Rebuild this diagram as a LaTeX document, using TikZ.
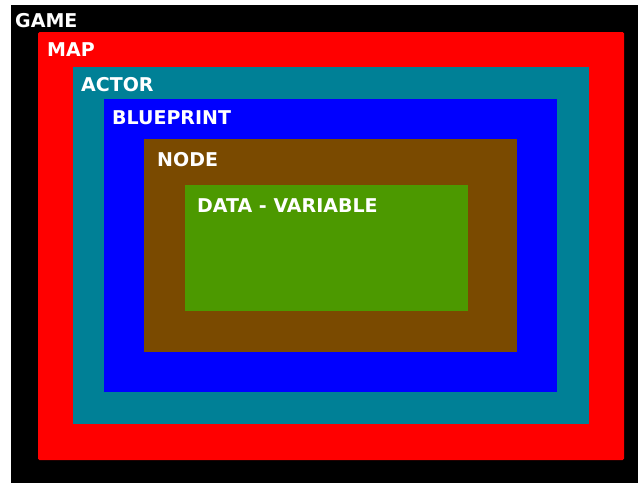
\documentclass[tikz,border=0pt]{standalone}
\usepackage{fontspec}
\setmainfont{DejaVu Sans}
\definecolor{cteal}{RGB}{0,128,150}
\definecolor{cbrown}{RGB}{122,74,0}
\definecolor{cgreen}{RGB}{76,153,0}
\begin{document}
\begin{tikzpicture}[x=1pt,y=-1pt,
  lbl/.style={anchor=base west,inner sep=0pt,text=white,font=\fontsize{19}{22}\selectfont\bfseries},
  box/.style={rounded corners=1.5pt}]
\useasboundingbox (0,0) rectangle (638,483);
\fill[white] (0,0) rectangle (638,483);
\fill[black] (11,5) rectangle (638,483);
\fill[red,box] (38,32) rectangle (624,460);
\fill[cteal] (73,67) rectangle (589,424);
\fill[blue] (104,99) rectangle (557,392);
\fill[cbrown] (144,139) rectangle (517,352);
\fill[cgreen] (185,185) rectangle (468,311);
\node[lbl] (game) at (15,27) {GAME};
\node[lbl] (map) at (47,56) {MAP};
\node[lbl] (actor) at (81,91) {ACTOR};
\node[lbl] (bp) at (112,124) {BLUEPRINT};
\node[lbl] (nd) at (157,166) {NODE};
\node[lbl] (data) at (197,212) {DATA - VARIABLE};
\end{tikzpicture}
\end{document}
